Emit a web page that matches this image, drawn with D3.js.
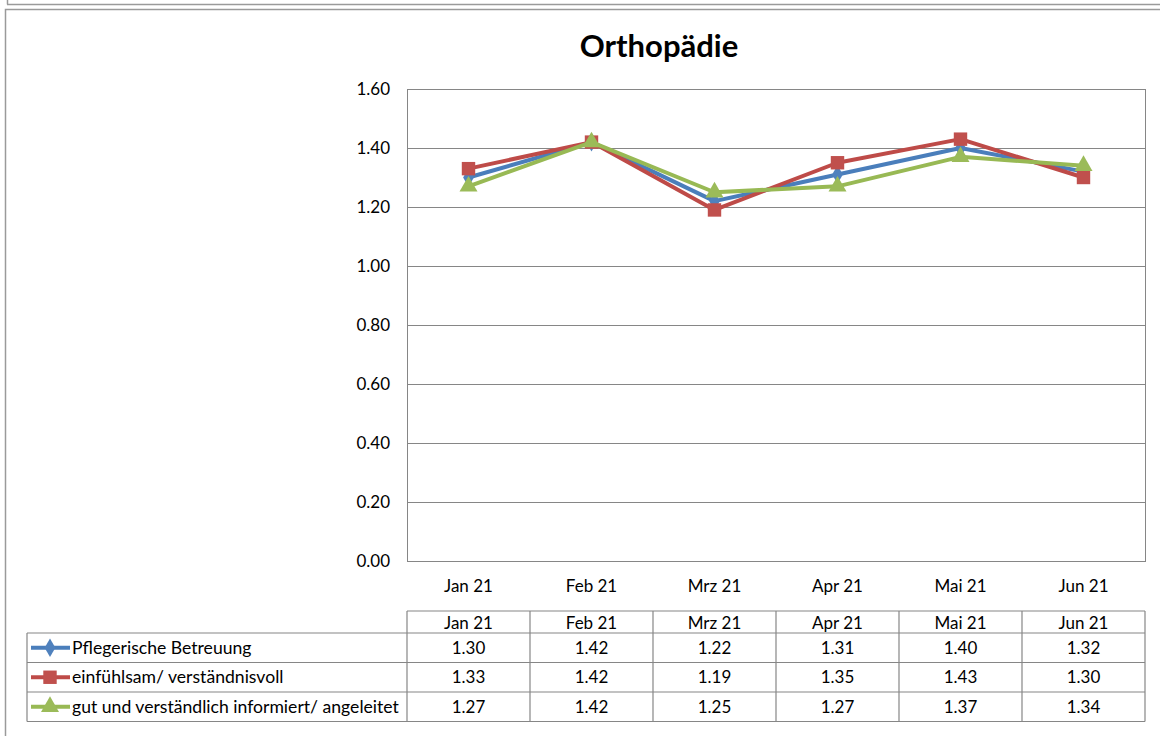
<!DOCTYPE html>
<html>
<head>
<meta charset="utf-8">
<script src="https://cdn.jsdelivr.net/npm/d3@7"></script>
<style>
  html, body { margin: 0; padding: 0; background: #fff; }
  svg { display: block; }
  text { font-family: Lato, "Open Sans", sans-serif; fill: #000; }
</style>
</head>
<body>
<svg id="chart" width="1160" height="736"></svg>
<script>
// Monthly scores, Orthopädie
const categories = ["Jan 21", "Feb 21", "Mrz 21", "Apr 21", "Mai 21", "Jun 21"];
const seriesNames = [
  "Pflegerische Betreuung",
  "einfühlsam/ verständnisvoll",
  "gut und verständlich informiert/ angeleitet"
];
const pflegerischeBetreuung = [1.30, 1.42, 1.22, 1.31, 1.40, 1.32];
const einfuehlsam = [1.33, 1.42, 1.19, 1.35, 1.43, 1.30];
const gutInformiert = [1.27, 1.42, 1.25, 1.27, 1.37, 1.34];
const yTicks = [0, 0.2, 0.4, 0.6, 0.8, 1.0, 1.2, 1.4, 1.6];

const seriesValues = [pflegerischeBetreuung, einfuehlsam, gutInformiert];
const lineColors = ["#4A7EBB", "#BE4B48", "#98B954"];
const markerColors = ["#4F81BD", "#C0504D", "#9BBB59"];
const markerTypes = [d3.symbolDiamond, d3.symbolSquare, d3.symbolTriangle];
const markerSizes = [100, 180, 140];

const svg = d3.select("#chart");
const gridColor = "#868686";
const labelSize = "17px";

// outer frames
svg.append("line").attr("x1", 7).attr("x2", 1160).attr("y1", 4.5).attr("y2", 4.5)
  .attr("stroke", "#9a9a9a").attr("stroke-width", 1.5);
svg.append("line").attr("x1", 7.5).attr("x2", 7.5).attr("y1", 0).attr("y2", 4.5)
  .attr("stroke", "#9a9a9a").attr("stroke-width", 1.5);
svg.append("rect").attr("x", 5.5).attr("y", 9.5).attr("width", 1170).attr("height", 740)
  .attr("fill", "#fff").attr("stroke", "#9a9a9a").attr("stroke-width", 1.5);

// title
svg.append("text").attr("x", 659).attr("y", 57).attr("text-anchor", "middle")
  .style("font-size", "31px").style("font-weight", "bold").text("Orthopädie");

// plot area
const plot = { left: 407, top: 89, right: 1145, bottom: 561 };
const x = d3.scaleBand().domain(categories).range([plot.left, plot.right]);
const y = d3.scaleLinear().domain([0, 1.6]).range([plot.bottom, plot.top]);

// gridlines
svg.append("g").selectAll("line").data(yTicks).join("line")
  .attr("x1", plot.left).attr("x2", plot.right)
  .attr("y1", d => Math.round(y(d)) + 0.5).attr("y2", d => Math.round(y(d)) + 0.5)
  .attr("stroke", gridColor).attr("stroke-width", 1);
// plot border
svg.append("rect").attr("x", plot.left + 0.5).attr("y", plot.top + 0.5)
  .attr("width", plot.right - plot.left).attr("height", plot.bottom - plot.top)
  .attr("fill", "none").attr("stroke", gridColor).attr("stroke-width", 1);

// y axis labels
const yAxis = d3.axisLeft(y).tickValues(yTicks).tickFormat(d3.format(".2f")).tickSize(0).tickPadding(17);
const yg = svg.append("g").attr("transform", `translate(${plot.left},0)`).call(yAxis);
yg.select(".domain").remove();
yg.selectAll("text").style("font-size", labelSize).style("font-family", "Lato, sans-serif").attr("fill", "#000");

// x axis labels
const xAxis = d3.axisBottom(x).tickSize(0).tickPadding(19);
const xg = svg.append("g").attr("transform", `translate(0,${plot.bottom})`).call(xAxis);
xg.select(".domain").remove();
xg.selectAll("text").style("font-size", labelSize).style("font-family", "Lato, sans-serif").attr("fill", "#000");

// lines and markers
const line = d3.line().x((d, i) => x(categories[i]) + x.bandwidth() / 2).y(d => y(d));
seriesValues.forEach((vals, s) => {
  const g = svg.append("g");
  g.append("path").datum(vals).attr("d", line).attr("fill", "none")
    .attr("stroke", lineColors[s]).attr("stroke-width", 4).attr("stroke-linejoin", "round");
  g.selectAll("path.m").data(vals).join("path").attr("class", "m")
    .attr("transform", (d, i) => `translate(${x(categories[i]) + x.bandwidth() / 2},${y(d)})`)
    .attr("d", d3.symbol().type(markerTypes[s]).size(markerSizes[s]))
    .attr("fill", markerColors[s]);
});

// data table
const tbl = { headTop: 611, headBottom: 633, rowH: 29.5, left: 27 };
const tg = svg.append("g").attr("stroke", gridColor).attr("stroke-width", 1.2);
const colEdges = categories.map(c => x(c)).concat([plot.right]);
const tableBottom = tbl.headBottom + tbl.rowH * seriesNames.length;
// header row
tg.append("line").attr("x1", plot.left).attr("x2", plot.right).attr("y1", tbl.headTop).attr("y2", tbl.headTop);
colEdges.forEach(cx => {
  tg.append("line").attr("x1", cx).attr("x2", cx).attr("y1", tbl.headTop).attr("y2", tableBottom);
});
for (let r = 0; r <= seriesNames.length; r++) {
  const yy = tbl.headBottom + r * tbl.rowH;
  tg.append("line").attr("x1", tbl.left).attr("x2", plot.right).attr("y1", yy).attr("y2", yy);
}
tg.append("line").attr("x1", tbl.left).attr("x2", tbl.left).attr("y1", tbl.headBottom).attr("y2", tableBottom);

// header labels
svg.append("g").selectAll("text").data(categories).join("text")
  .attr("x", d => x(d) + x.bandwidth() / 2).attr("y", tbl.headTop + 17.5)
  .attr("text-anchor", "middle").style("font-size", labelSize).text(d => d);

// rows
seriesNames.forEach((name, s) => {
  const cy = tbl.headBottom + s * tbl.rowH + tbl.rowH / 2;
  const lg = svg.append("g");
  lg.append("line").attr("x1", 31).attr("x2", 70).attr("y1", cy).attr("y2", cy)
    .attr("stroke", lineColors[s]).attr("stroke-width", 4);
  lg.append("path").attr("transform", `translate(50,${cy})`)
    .attr("d", d3.symbol().type(markerTypes[s]).size(markerSizes[s])).attr("fill", markerColors[s]);
  lg.append("text").attr("x", 72).attr("y", cy + 6).style("font-size", "17.6px").text(name);
  svg.append("g").selectAll("text").data(seriesValues[s]).join("text")
    .attr("x", (d, i) => x(categories[i]) + x.bandwidth() / 2).attr("y", cy + 6)
    .attr("text-anchor", "middle").style("font-size", labelSize).text(d => d3.format(".2f")(d));
});
</script>
</body>
</html>
